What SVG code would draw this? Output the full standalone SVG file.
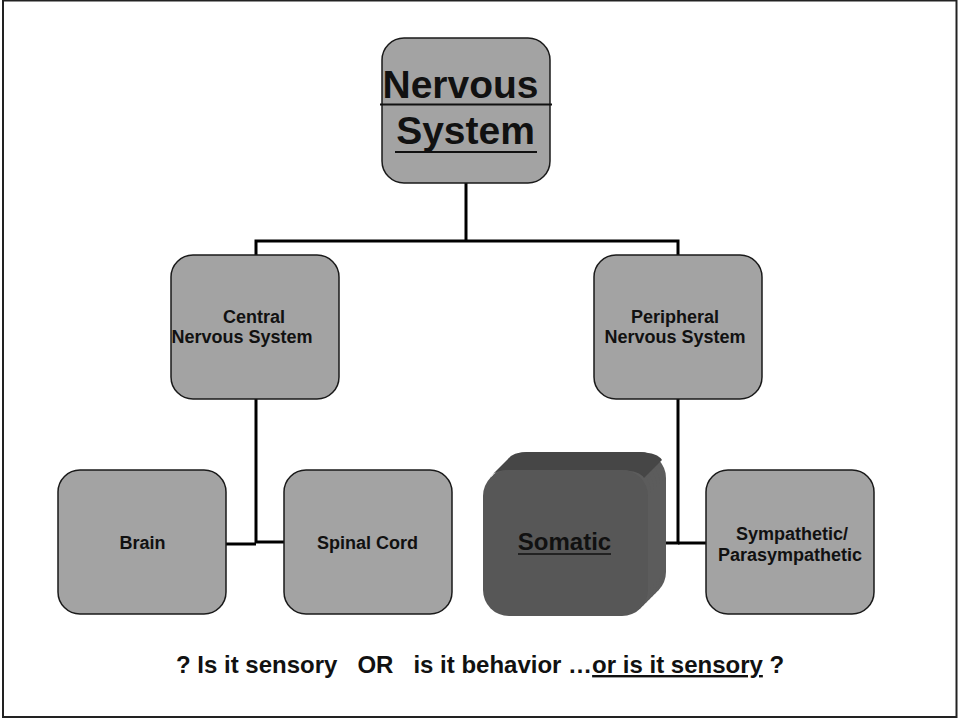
<svg xmlns="http://www.w3.org/2000/svg" xmlns:xlink="http://www.w3.org/1999/xlink" width="960" height="719" viewBox="0 0 960 719">
<style>
.box{fill:#a3a3a3;stroke:#1a1a1a;stroke-width:1.5}
.t{font-family:"Liberation Sans",Arial,sans-serif;font-weight:bold;fill:#111;text-anchor:middle}
.s{font-size:18px}
.q{font-family:"Liberation Sans",Arial,sans-serif;font-weight:bold;fill:#111;font-size:24px}
.c{fill:none;stroke:#000;stroke-width:3}
.ext{fill:#5c5c5c}
</style>
<defs>
<rect id="sf" width="165" height="146" rx="26"/>
</defs>
<rect x="3" y="0.5" width="953.5" height="716.5" fill="#fff" stroke="#222" stroke-width="2"/>
<g id="connectors">
<polyline class="c" points="466,183 466,241"/>
<polyline class="c" points="256,255 256,241 678,241 678,255"/>
<polyline class="c" points="256,399 256,543"/>
<line class="c" x1="226" y1="544" x2="256" y2="544"/>
<line class="c" x1="256" y1="542" x2="284" y2="542"/>
<polyline class="c" points="678,399 678,543 649,543"/>
<line class="c" x1="678" y1="543" x2="706" y2="543"/>
</g>
<g id="nervous-system">
<rect class="box" x="382" y="38" width="168" height="145" rx="22"/>
<text class="t" x="460.5" y="98" font-size="39">Nervous</text>
<line x1="380" y1="104.5" x2="552" y2="104.5" stroke="#111" stroke-width="2"/>
<text class="t" x="465.5" y="144" font-size="39">System</text>
<line x1="395" y1="152" x2="537" y2="152" stroke="#111" stroke-width="2"/>
</g>
<g id="central">
<rect class="box" x="171" y="255" width="168" height="144" rx="22"/>
<text class="t s" x="254" y="323">Central</text>
<text class="t s" x="242" y="343">Nervous System</text>
</g>
<g id="peripheral">
<rect class="box" x="594" y="255" width="168" height="144" rx="22"/>
<text class="t s" x="675" y="323">Peripheral</text>
<text class="t s" x="675" y="343">Nervous System</text>
</g>
<g id="brain">
<rect class="box" x="58" y="470" width="168" height="144" rx="22"/>
<text class="t s" x="142.5" y="549">Brain</text>
</g>
<g id="spinal-cord">
<rect class="box" x="284" y="470" width="168" height="144" rx="22"/>
<text class="t s" x="367.5" y="549">Spinal Cord</text>
</g>
<g id="somatic">
<use href="#sf" class="ext" x="501" y="452"/>
<use href="#sf" class="ext" x="498" y="455"/>
<use href="#sf" class="ext" x="495" y="458"/>
<use href="#sf" class="ext" x="492" y="461"/>
<use href="#sf" class="ext" x="489" y="464"/>
<use href="#sf" class="ext" x="486" y="467"/>
<path d="M490,477 Q495,470 509,470 L622,470 Q640,471 644,478 L662,460 Q658,453 640,452 L527,452 Q513,452 508,459 Z" fill="#464646"/>
<use href="#sf" x="483" y="470" fill="#575757"/>
<text class="t" x="564.5" y="550" font-size="24">Somatic</text>
<line x1="518" y1="554" x2="611" y2="554" stroke="#111" stroke-width="1.5"/>
</g>
<g id="sympathetic">
<rect class="box" x="706" y="470" width="168" height="144" rx="22"/>
<text class="t s" x="792" y="540">Sympathetic/</text>
<text class="t s" x="790" y="561">Parasympathetic</text>
</g>
<g id="question">
<text class="q" x="176" y="673" xml:space="preserve">? Is it sensory   OR   is it behavior …<tspan text-decoration="underline">or is it sensory</tspan> ?</text>
</g>
</svg>
